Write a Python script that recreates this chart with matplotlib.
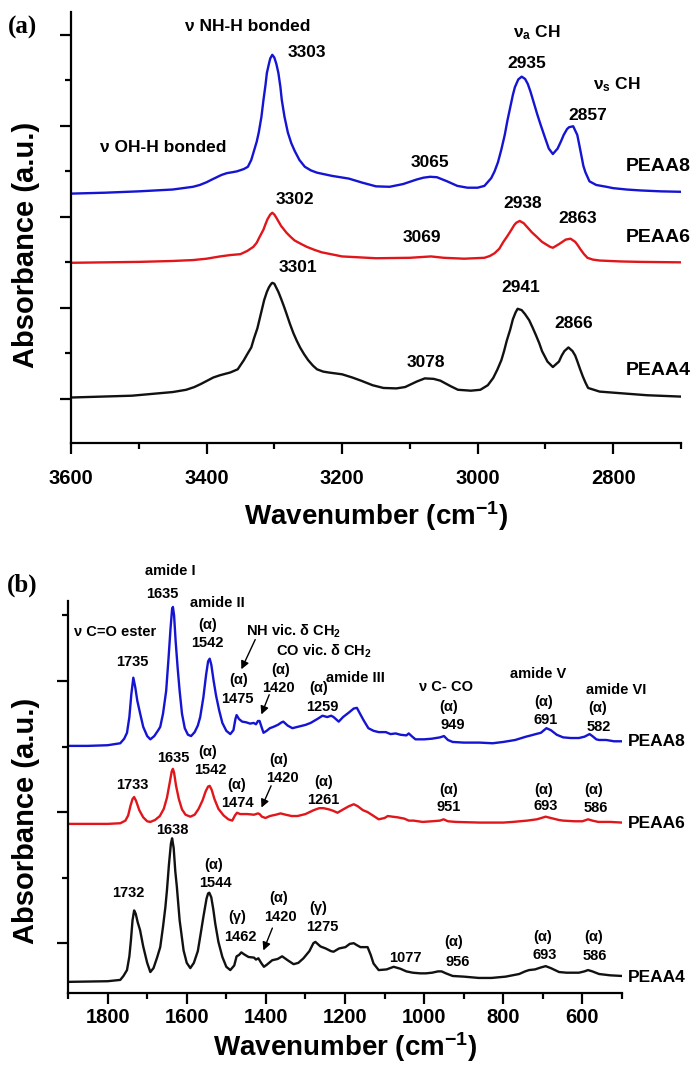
import matplotlib
matplotlib.use('Agg')
import matplotlib.pyplot as plt
from matplotlib.ticker import MultipleLocator, NullFormatter

plt.rcParams['font.family'] = ['Liberation Sans', 'DejaVu Sans']
plt.rcParams['font.weight'] = 'bold'
plt.rcParams['mathtext.fontset'] = 'custom'
plt.rcParams['mathtext.rm'] = 'Liberation Sans:bold'
plt.rcParams['mathtext.it'] = 'Liberation Sans:bold'
plt.rcParams['mathtext.bf'] = 'Liberation Sans:bold'

BLUE = '#1414d2'
RED = '#e0161b'
BLACK = '#111111'

# ---- panel (a): 3600-2700 cm-1 ----
A_WN_PEAA8 = [3600, 3550, 3500, 3475, 3450, 3435, 3420, 3410, 3400, 3392, 3385, 3378, 3370,
              3362, 3355, 3345, 3339, 3334, 3330, 3326, 3323, 3319, 3316, 3313, 3311, 3308,
              3306, 3303, 3300, 3297, 3294, 3291, 3289, 3285, 3280, 3275, 3270, 3263, 3255,
              3246, 3237, 3215, 3190, 3170, 3150, 3130, 3110, 3090, 3080, 3070, 3060, 3045,
              3030, 3015, 3000, 2990, 2980, 2975, 2970, 2965, 2960, 2956, 2952, 2948, 2945,
              2940, 2935, 2930, 2926, 2922, 2917, 2912, 2907, 2902, 2895, 2889, 2882, 2877,
              2873, 2868, 2865, 2859, 2853, 2850, 2847, 2844, 2841, 2835, 2825, 2810, 2800,
              2780, 2760, 2730, 2700]
A_ABS_PEAA8 = [4.51, 4.53, 4.56, 4.58, 4.60, 4.63, 4.66, 4.70, 4.76, 4.82, 4.87, 4.92, 4.96,
               4.98, 5.00, 5.05, 5.10, 5.25, 5.45, 5.65, 5.85, 6.20, 6.57, 6.90, 7.16, 7.36,
               7.48, 7.56, 7.50, 7.36, 7.16, 6.85, 6.57, 6.20, 5.85, 5.62, 5.45, 5.25, 5.10,
               5.02, 4.97, 4.90, 4.84, 4.75, 4.67, 4.66, 4.72, 4.82, 4.86, 4.88, 4.87, 4.78,
               4.68, 4.64, 4.64, 4.68, 4.85, 5.00, 5.20, 5.48, 5.80, 6.12, 6.40, 6.68, 6.85,
               7.02, 7.08, 7.03, 6.92, 6.75, 6.50, 6.25, 6.02, 5.80, 5.50, 5.38, 5.50, 5.66,
               5.80, 5.93, 5.97, 5.99, 5.80, 5.58, 5.35, 5.12, 4.98, 4.78, 4.70, 4.66, 4.63,
               4.60, 4.58, 4.56, 4.55]

A_WN_PEAA6 = [3600, 3500, 3450, 3420, 3400, 3380, 3365, 3350, 3340, 3331, 3326, 3322, 3316,
              3313, 3310, 3306, 3303, 3300, 3297, 3290, 3282, 3276, 3270, 3260, 3252, 3240,
              3230, 3200, 3150, 3100, 3069, 3050, 3020, 2990, 2982, 2975, 2968, 2962, 2956,
              2950, 2946, 2943, 2938, 2932, 2926, 2920, 2912, 2905, 2893, 2889, 2880, 2874,
              2870, 2863, 2856, 2852, 2848, 2843, 2838, 2830, 2820, 2790, 2760, 2700]
A_ABS_PEAA6 = [2.99, 3.01, 3.03, 3.05, 3.08, 3.13, 3.16, 3.18, 3.25, 3.34, 3.43, 3.55, 3.72,
               3.84, 3.95, 4.05, 4.09, 4.05, 3.98, 3.80, 3.65, 3.56, 3.48, 3.40, 3.34, 3.27,
               3.22, 3.13, 3.09, 3.10, 3.13, 3.10, 3.08, 3.10, 3.14, 3.20, 3.30, 3.45, 3.58,
               3.72, 3.82, 3.87, 3.91, 3.86, 3.76, 3.66, 3.55, 3.45, 3.34, 3.32, 3.40, 3.46,
               3.50, 3.52, 3.45, 3.37, 3.28, 3.18, 3.10, 3.06, 3.04, 3.02, 3.01, 3.00]

A_WN_PEAA4 = [3600, 3510, 3450, 3430, 3418, 3408, 3399, 3390, 3380, 3365, 3354, 3345, 3340,
              3334, 3330, 3325, 3320, 3315, 3311, 3308, 3305, 3303, 3300, 3298, 3294, 3290,
              3286, 3282, 3277, 3272, 3267, 3262, 3256, 3250, 3243, 3237, 3228, 3220, 3210,
              3200, 3185, 3172, 3155, 3139, 3120, 3107, 3090, 3078, 3065, 3055, 3040, 3029,
              3010, 2996, 2985, 2977, 2971, 2965, 2961, 2957, 2952, 2948, 2944, 2941, 2935,
              2930, 2924, 2919, 2914, 2909, 2905, 2897, 2889, 2880, 2876, 2872, 2866, 2860,
              2856, 2853, 2849, 2845, 2841, 2837, 2820, 2794, 2750, 2700]
A_ABS_PEAA4 = [0.03, 0.07, 0.15, 0.20, 0.26, 0.33, 0.40, 0.47, 0.52, 0.58, 0.65, 0.85, 0.98,
               1.13, 1.33, 1.55, 1.86, 2.17, 2.35, 2.45, 2.52, 2.55, 2.53, 2.47, 2.35, 2.20,
               2.04, 1.87, 1.65, 1.45, 1.28, 1.13, 0.98, 0.85, 0.73, 0.65, 0.60, 0.58, 0.56,
               0.54, 0.47, 0.40, 0.30, 0.24, 0.23, 0.26, 0.38, 0.45, 0.44, 0.40, 0.28, 0.20,
               0.18, 0.20, 0.30, 0.46, 0.64, 0.85, 1.05, 1.28, 1.52, 1.75, 1.90, 1.98, 1.95,
               1.86, 1.73, 1.57, 1.40, 1.22, 1.05, 0.82, 0.70, 0.82, 0.95, 1.05, 1.13, 1.05,
               0.95, 0.83, 0.66, 0.50, 0.36, 0.24, 0.16, 0.13, 0.08, 0.05]

# ---- panel (b): 1900-500 cm-1 ----
B_WN_PEAA8 = [1900, 1850, 1800, 1768, 1758, 1751, 1745, 1740, 1735, 1730, 1725, 1718, 1710,
              1700, 1692, 1682, 1672, 1667, 1660, 1652, 1646, 1641, 1637, 1635, 1632, 1628,
              1623, 1618, 1612, 1605, 1597, 1589, 1580, 1572, 1566, 1558, 1551, 1546, 1542,
              1538, 1532, 1526, 1518, 1510, 1500, 1490, 1482, 1477, 1474, 1468, 1460, 1450,
              1440, 1431, 1425, 1420, 1416, 1410, 1406, 1398, 1390, 1381, 1370, 1360, 1356,
              1345, 1333, 1320, 1300, 1287, 1270, 1257, 1245, 1235, 1229, 1216, 1205, 1190,
              1178, 1170, 1162, 1153, 1141, 1128, 1115, 1097, 1085, 1072, 1060, 1045, 1039,
              1030, 1022, 1000, 980, 960, 950, 940, 928, 900, 860, 827, 800, 770, 743, 730,
              718, 705, 691, 680, 665, 649, 630, 609, 595, 582, 575, 565, 558, 540, 520, 500]
B_ABS_PEAA8 = [3.01, 3.01, 3.02, 3.05, 3.12, 3.21, 3.45, 3.80, 4.05, 3.90, 3.70, 3.51, 3.30,
               3.16, 3.11, 3.16, 3.25, 3.30, 3.50, 3.85, 4.35, 4.80, 5.10, 5.13, 5.00, 4.60,
               4.20, 3.85, 3.50, 3.28, 3.18, 3.16, 3.22, 3.32, 3.45, 3.75, 4.10, 4.30, 4.34,
               4.25, 4.00, 3.78, 3.55, 3.36, 3.24, 3.19, 3.25, 3.42, 3.48, 3.42, 3.38, 3.37,
               3.35, 3.36, 3.34, 3.39, 3.39, 3.28, 3.21, 3.24, 3.28, 3.30, 3.33, 3.37, 3.38,
               3.32, 3.28, 3.30, 3.33, 3.36, 3.42, 3.47, 3.45, 3.47, 3.45, 3.38, 3.45, 3.52,
               3.58, 3.59, 3.50, 3.40, 3.28, 3.24, 3.22, 3.22, 3.19, 3.20, 3.18, 3.17, 3.20,
               3.15, 3.11, 3.11, 3.12, 3.14, 3.16, 3.10, 3.07, 3.06, 3.06, 3.05, 3.07, 3.10,
               3.15, 3.17, 3.19, 3.21, 3.28, 3.25, 3.18, 3.14, 3.13, 3.13, 3.15, 3.19, 3.16,
               3.11, 3.10, 3.10, 3.08, 3.08]

B_WN_PEAA6 = [1900, 1800, 1768, 1755, 1748, 1742, 1737, 1733, 1728, 1720, 1710, 1700, 1692,
              1680, 1668, 1658, 1650, 1643, 1638, 1635, 1632, 1627, 1620, 1612, 1603, 1591,
              1580, 1570, 1560, 1552, 1546, 1542, 1537, 1530, 1520, 1507, 1495, 1485, 1478,
              1473, 1465, 1447, 1430, 1420, 1416, 1410, 1401, 1390, 1375, 1363, 1350, 1335,
              1320, 1300, 1279, 1265, 1254, 1240, 1230, 1219, 1205, 1190, 1178, 1168, 1155,
              1143, 1125, 1115, 1100, 1092, 1080, 1067, 1050, 1039, 1027, 1004, 980, 960,
              951, 940, 920, 860, 800, 776, 740, 715, 693, 680, 660, 649, 620, 600, 586, 575,
              560, 530, 500]
B_ABS_PEAA6 = [1.82, 1.82, 1.83, 1.87, 1.95, 2.10, 2.20, 2.23, 2.17, 2.03, 1.92, 1.86, 1.85,
               1.88, 1.94, 2.05, 2.22, 2.45, 2.62, 2.66, 2.60, 2.40, 2.20, 2.04, 1.96, 1.93,
               1.96, 2.05, 2.18, 2.32, 2.39, 2.40, 2.34, 2.20, 2.05, 1.95, 1.89, 1.87, 1.95,
               1.99, 1.97, 1.97, 1.96, 1.98, 1.97, 1.93, 1.91, 1.94, 1.96, 1.98, 1.96, 1.94,
               1.94, 1.97, 2.03, 2.06, 2.06, 2.04, 2.02, 1.99, 2.04, 2.09, 2.12, 2.09, 2.03,
               2.00, 1.93, 1.89, 1.91, 1.94, 1.93, 1.92, 1.90, 1.87, 1.87, 1.85, 1.86, 1.87,
               1.89, 1.86, 1.85, 1.84, 1.84, 1.85, 1.87, 1.89, 1.93, 1.91, 1.88, 1.87, 1.86,
               1.86, 1.89, 1.87, 1.85, 1.85, 1.84]

B_WN_PEAA4 = [1900, 1800, 1768, 1760, 1751, 1745, 1741, 1737, 1733, 1729, 1724, 1718, 1710,
              1700, 1692, 1684, 1675, 1667, 1660, 1654, 1650, 1645, 1640, 1637, 1633, 1629,
              1625, 1618, 1608, 1600, 1591, 1582, 1572, 1566, 1558, 1550, 1546, 1543, 1538,
              1533, 1528, 1520, 1510, 1500, 1490, 1480, 1474, 1468, 1462, 1455, 1444, 1430,
              1425, 1419, 1412, 1405, 1398, 1384, 1370, 1359, 1345, 1330, 1318, 1305, 1290,
              1280, 1275, 1262, 1249, 1236, 1229, 1215, 1199, 1188, 1178, 1170, 1161, 1150,
              1143, 1135, 1128, 1115, 1095, 1077, 1060, 1045, 1029, 1010, 996, 980, 965, 956,
              945, 928, 900, 862, 830, 794, 760, 745, 735, 720, 705, 693, 680, 659, 640, 609,
              595, 586, 575, 558, 530, 500]
B_ABS_PEAA4 = [-0.59, -0.58, -0.56, -0.50, -0.41, -0.20, 0.05, 0.35, 0.50, 0.45, 0.32, 0.20,
               -0.05, -0.30, -0.44, -0.38, -0.22, -0.06, 0.25, 0.55, 0.81, 1.20, 1.52, 1.60,
               1.45, 1.10, 0.86, 0.35, -0.11, -0.30, -0.38, -0.30, -0.12, 0.10, 0.40, 0.68,
               0.76, 0.77, 0.70, 0.52, 0.30, 0.02, -0.21, -0.36, -0.41, -0.34, -0.20, -0.18,
               -0.14, -0.17, -0.21, -0.22, -0.25, -0.23, -0.30, -0.36, -0.33, -0.26, -0.24,
               -0.20, -0.26, -0.32, -0.30, -0.23, -0.12, 0.00, 0.02, -0.05, -0.08, -0.12,
               -0.13, -0.08, -0.06, -0.01, 0.00, -0.03, -0.06, -0.06, -0.06, -0.18, -0.31,
               -0.41, -0.40, -0.36, -0.39, -0.43, -0.45, -0.46, -0.46, -0.45, -0.43, -0.43,
               -0.46, -0.50, -0.51, -0.53, -0.53, -0.51, -0.47, -0.43, -0.41, -0.40, -0.37,
               -0.35, -0.38, -0.44, -0.45, -0.45, -0.43, -0.41, -0.43, -0.47, -0.49, -0.50]

SAMPLES = ['PEAA8', 'PEAA6', 'PEAA4']


def style_axes(ax, xmin, xmax, ymin, ymax, ylab_x, ylab_y, pad, labelpad):
    ax.set_xlim(xmin, xmax)
    ax.set_ylim(ymin, ymax)
    for side in ('top', 'right'):
        ax.spines[side].set_visible(False)
    for side in ('left', 'bottom'):
        ax.spines[side].set_linewidth(1.6)
    ax.xaxis.set_major_locator(MultipleLocator(200))
    ax.xaxis.set_minor_locator(MultipleLocator(100))
    ax.yaxis.set_major_locator(MultipleLocator(2))
    ax.yaxis.set_minor_locator(MultipleLocator(1))
    ax.yaxis.set_major_formatter(NullFormatter())
    ax.tick_params(which='major', direction='out', length=8, width=1.6, labelsize=14.5, pad=pad)
    ax.tick_params(which='minor', direction='out', length=4.5, width=1.6)
    for lab in ax.get_xticklabels():
        lab.set_fontweight('bold')
    ax.set_ylabel('Absorbance (a.u.)', fontsize=21, fontweight='bold')
    ax.yaxis.set_label_coords(ylab_x, ylab_y)
    ax.set_xlabel('Wavenumber (cm$^{-1}$)', fontsize=20, fontweight='bold', labelpad=labelpad)


fig = plt.figure(figsize=(6.9, 10.74), dpi=100)

# ---------------- panel (a) ----------------
ax = fig.add_axes([0.1029, 0.5875, 0.884, 0.4013])
ax.plot(A_WN_PEAA8, A_ABS_PEAA8, color=BLUE, lw=1.7)
ax.plot(A_WN_PEAA6, A_ABS_PEAA6, color=RED, lw=1.7)
ax.plot(A_WN_PEAA4, A_ABS_PEAA4, color=BLACK, lw=1.7)
style_axes(ax, 3600, 2700, -0.97, 8.5, -0.051, 0.46, pad=11, labelpad=8)

fs = 12.5
a_labels = [
    ('ν NH-H bonded', 3339, 8.18), ('3303', 3252, 7.60), ('ν OH-H bonded', 3464, 5.52),
    ('3065', 3070, 5.19), ('ν$_{\\mathregular{a}}$ CH', 2912, 8.04), ('2935', 2927, 7.38),
    ('ν$_{\\mathregular{s}}$ CH', 2794, 6.90), ('2857', 2838, 6.22),
    ('3302', 3269, 4.37), ('3069', 3082, 3.54), ('2938', 2934, 4.29), ('2863', 2853, 3.96),
    ('3301', 3265, 2.88), ('3078', 3077, 0.79), ('2941', 2937, 2.44), ('2866', 2859, 1.65),
]
for txt, x, y in a_labels:
    ax.text(x, y, txt, fontsize=fs, fontweight='bold', ha='center', va='center')
for name, y in zip(SAMPLES, [5.10, 3.54, 0.62]):
    ax.text(2782, y, name, fontsize=14, fontweight='bold', ha='left', va='center',
            clip_on=False)
fig.text(0.032, 0.974, '(a)', fontsize=18, fontweight='bold', family='Liberation Serif',
         ha='center', va='center')

# ---------------- panel (b) ----------------
ax = fig.add_axes([0.0986, 0.0754, 0.8029, 0.365])
ax.plot(B_WN_PEAA8, B_ABS_PEAA8, color=BLUE, lw=1.7)
ax.plot(B_WN_PEAA6, B_ABS_PEAA6, color=RED, lw=1.7)
ax.plot(B_WN_PEAA4, B_ABS_PEAA4, color=BLACK, lw=1.7)
style_axes(ax, 1900, 500, -0.76, 5.22, -0.05, 0.44, pad=3, labelpad=2)

fs = 10.5
b_labels = [
    # PEAA8
    ('amide I', 1642, 5.68), ('1635', 1662, 5.33), ('amide II', 1523, 5.19),
    ('ν C=O ester', 1781, 4.75), ('(α)', 1548, 4.85), ('1542', 1548, 4.58),
    ('1735', 1738, 4.29), ('NH vic. δ CH$_2$', 1330, 4.76), ('(α)', 1470, 4.02),
    ('1475', 1472, 3.73), ('CO vic. δ CH$_2$', 1254, 4.46), ('(α)', 1363, 4.17),
    ('1420', 1368, 3.89), ('(α)', 1267, 3.89), ('1259', 1257, 3.60),
    ('amide III', 1173, 4.05), ('ν C- CO', 946, 3.91), ('(α)', 938, 3.60),
    ('949', 928, 3.33), ('amide V', 713, 4.11), ('(α)', 697, 3.68), ('691', 692, 3.40),
    ('amide VI', 515, 3.86), ('(α)', 561, 3.59), ('582', 558, 3.30),
    # PEAA6
    ('1635', 1634, 2.82), ('(α)', 1548, 2.92), ('1542', 1541, 2.64), ('1733', 1738, 2.41),
    ('(α)', 1368, 2.79), ('1420', 1358, 2.52), ('(α)', 1475, 2.41), ('1474', 1472, 2.14),
    ('(α)', 1254, 2.46), ('1261', 1254, 2.18), ('(α)', 938, 2.34), ('951', 938, 2.08),
    ('(α)', 697, 2.34), ('693', 692, 2.09), ('(α)', 571, 2.34), ('586', 566, 2.06),
    # PEAA4
    ('1638', 1637, 1.73), ('(α)', 1533, 1.19), ('1544', 1528, 0.92), ('1732', 1748, 0.76),
    ('(γ)', 1472, 0.40), ('1462', 1465, 0.09), ('(α)', 1368, 0.69), ('1420', 1363, 0.40),
    ('(γ)', 1267, 0.53), ('1275', 1257, 0.24), ('1077', 1047, -0.23), ('(α)', 925, 0.02),
    ('956', 915, -0.29), ('(α)', 700, 0.09), ('693', 695, -0.18), ('(α)', 573, 0.09),
    ('586', 568, -0.20),
]
for txt, x, y in b_labels:
    ax.text(x, y, txt, fontsize=fs, fontweight='bold', ha='center', va='center',
            clip_on=False)
for name, y in zip(SAMPLES, [3.07, 1.83, -0.52]):
    ax.text(485, y, name, fontsize=12.5, fontweight='bold', ha='left', va='center',
            clip_on=False)

arrows = [((1424, 4.67), (1465, 4.14)), ((1389, 3.83), (1414, 3.45)),
          ((1384, 2.44), (1414, 2.03)), ((1381, 0.27), (1409, -0.15))]
for (x0, y0), (x1, y1) in arrows:
    ax.annotate('', xy=(x1, y1), xytext=(x0, y0),
                arrowprops=dict(arrowstyle='-|>', color='k', lw=1.0, mutation_scale=12))
fig.text(0.032, 0.455, '(b)', fontsize=18, fontweight='bold', family='Liberation Serif',
         ha='center', va='center')

fig.savefig('out.png', dpi=100)
